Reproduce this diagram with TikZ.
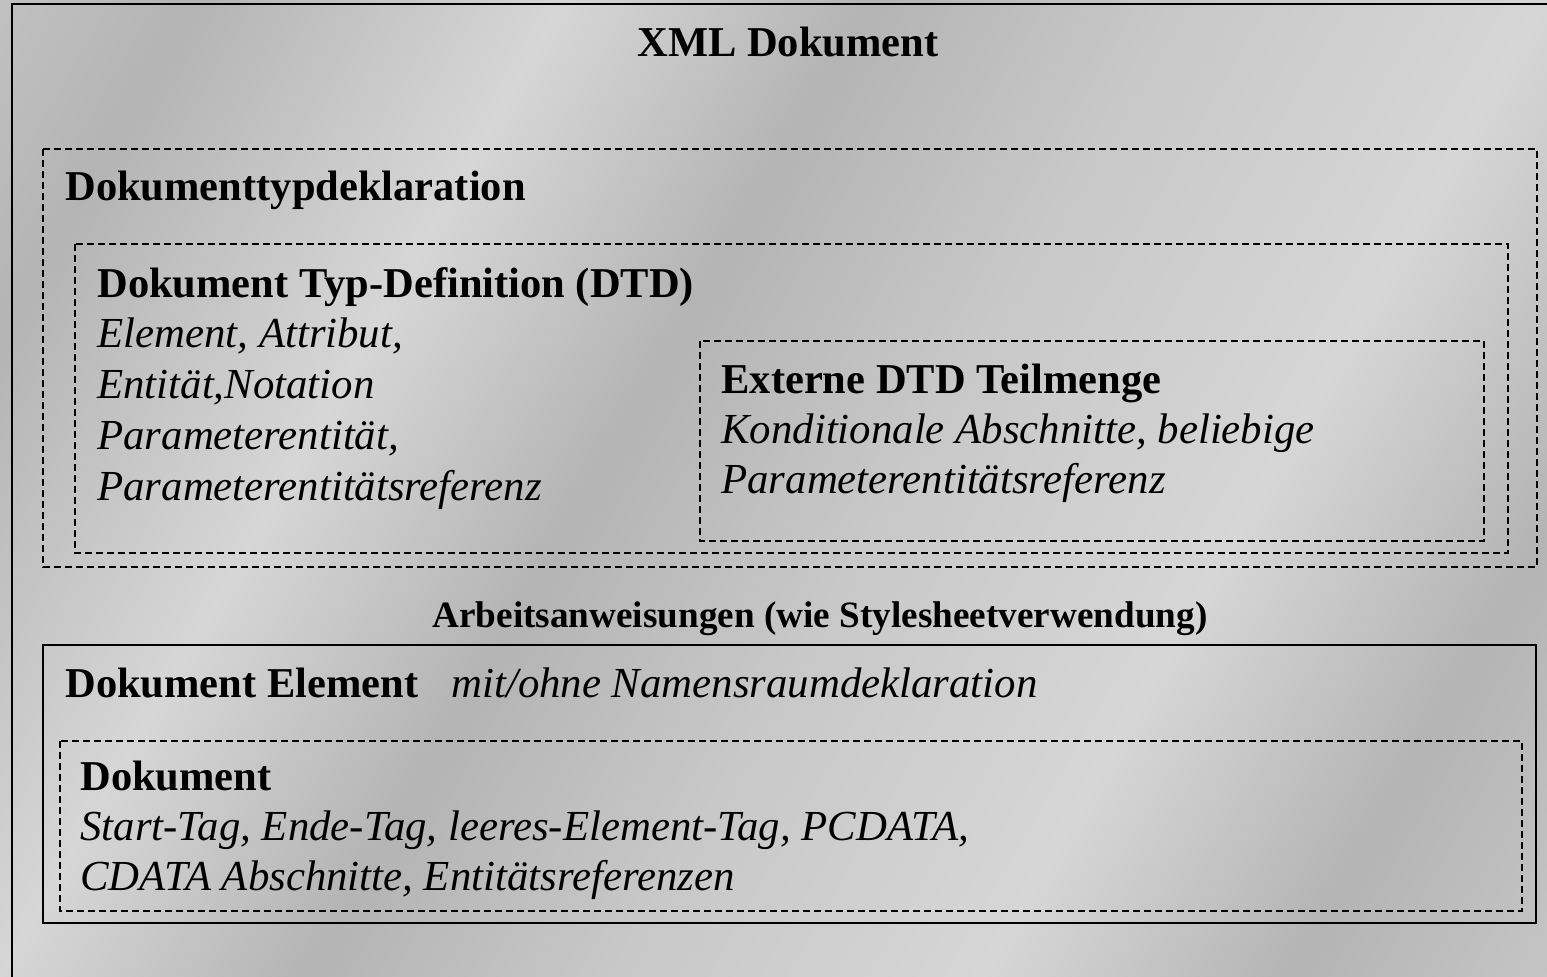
\documentclass[tikz,border=0pt]{standalone}
\usepackage{fontspec}
\setmainfont{Liberation Serif}
\definecolor{bgl}{RGB}{214,214,214}
\definecolor{bgm}{RGB}{200,200,200}
\definecolor{bgd}{RGB}{180,180,180}
\pgfdeclarehorizontalshading{bgmarble}{100bp}{color(0bp)=(bgl); color(14bp)=(bgm); color(24bp)=(bgd); color(34bp)=(bgl); color(46bp)=(bgm); color(56bp)=(bgd); color(66bp)=(bgl); color(78bp)=(bgd); color(88bp)=(bgm); color(100bp)=(bgd)}
\begin{document}
\begin{tikzpicture}[x=0.5pt,y=-0.5pt,
  dbox/.style={draw=black, line width=0.75pt, dash pattern=on 3.5pt off 2pt},
  sbox/.style={draw=black, line width=0.9pt},
  btxt/.style={font=\fontsize{21.25pt}{25pt}\selectfont\bfseries, anchor=base west, inner sep=0pt},
  itxt/.style={font=\fontsize{21.4pt}{25pt}\selectfont\itshape, anchor=base west, inner sep=0pt},
  htxt/.style={font=\fontsize{18.6pt}{22pt}\selectfont\bfseries, anchor=base, inner sep=0pt},
]
\useasboundingbox (0,0) rectangle (1547,976);
\shade[shading=bgmarble, shading angle=150] (0,0) rectangle (1547,976);
% outer frame
\draw[line width=1.3pt] (12,4) rectangle (1570,1000);
\node[btxt, anchor=base] (xml) at (788,56) {XML Dokument};
% Dokumenttypdeklaration
\draw[dbox] (43,149) rectangle (1537,567);
\node[btxt] (dtdecl) at (65,200) {Dokumenttypdeklaration};
\draw[dbox] (75,244) rectangle (1508,553);
\node[btxt] (dtd) at (97,297) {Dokument Typ-Definition (DTD)};
\node[itxt] (l1) at (97,347) {Element, Attribut,};
\node[itxt] (l2) at (97,398) {Entität,Notation};
\node[itxt] (l3) at (97,449) {Parameterentität,};
\node[itxt] (l4) at (97,500) {Parameterentitätsreferenz};
\draw[dbox] (700,341) rectangle (1484,541);
\node[btxt] (ext) at (721,393) {Externe DTD Teilmenge};
\node[itxt] (e1) at (721,443) {Konditionale Abschnitte, beliebige};
\node[itxt] (e2) at (721,493) {Parameterentitätsreferenz};
% Arbeitsanweisungen
\node[htxt] (pi) at (820,627) {Arbeitsanweisungen (wie Stylesheetverwendung)};
% Dokument Element
\draw[sbox] (43,645) rectangle (1536,923);
\node[btxt] (del) at (65,697) {Dokument Element};
\node[itxt] (ns) at (451,697) {mit/ohne Namensraumdeklaration};
\draw[dbox] (60,741) rectangle (1522,911);
\node[btxt] (dok) at (80,790) {Dokument};
\node[itxt] (d1) at (80,840) {Start-Tag, Ende-Tag, leeres-Element-Tag, PCDATA,};
\node[itxt] (d2) at (80,890) {CDATA Abschnitte, Entitätsreferenzen};
\end{tikzpicture}
\end{document}
